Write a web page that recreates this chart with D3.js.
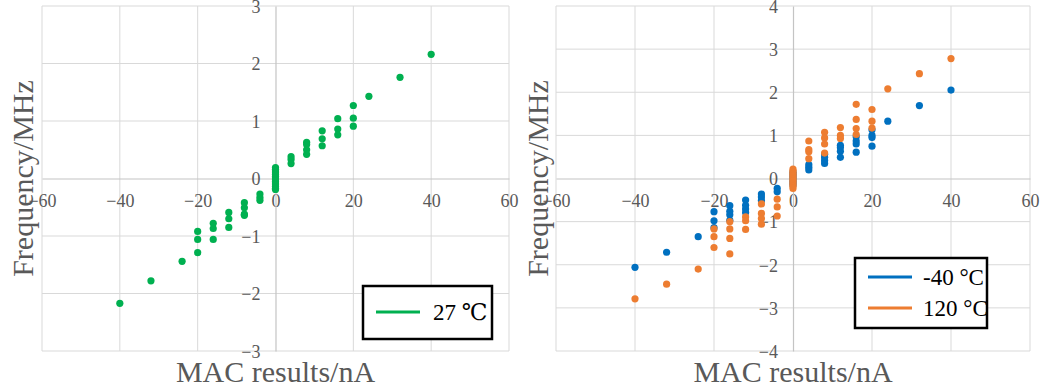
<!DOCTYPE html>
<html>
<head>
<meta charset="utf-8">
<script src="https://cdn.jsdelivr.net/npm/d3@7"></script>
<style>
  html, body { margin: 0; padding: 0; background: #fff; }
  svg { display: block; }
  svg text { font-family: "Liberation Serif", "Times New Roman", "DejaVu Serif", serif; }
</style>
</head>
<body>
<svg id="chart" width="1043" height="389"></svg>
<script>
// MAC output current (nA) vs. frequency shift (MHz)
const xTicks = [-60, -40, -20, 0, 20, 40, 60];
const yTicksLeft = [-3, -2, -1, 0, 1, 2, 3];
const yTicksRight = [-4, -3, -2, -1, 0, 1, 2, 3, 4];

// 27 °C measurements [MAC nA, MHz]
const temp27 = [
  [-40, -2.17], [-32, -1.78], [-24, -1.44],
  [-20, -0.92], [-20, -1.06], [-20, -1.29],
  [-16, -0.78], [-16, -0.87], [-16, -1.06],
  [-12, -0.59], [-12, -0.70], [-12, -0.85],
  [-8, -0.42], [-8, -0.51], [-8, -0.62], [-8, -0.64],
  [-4, -0.27], [-4, -0.33], [-4, -0.38],
  [0, 0.19], [0, 0.16], [0, 0.13], [0, 0.10], [0, 0.07], [0, 0.04], [0, 0.01],
  [0, -0.02], [0, -0.05], [0, -0.08], [0, -0.11], [0, -0.14], [0, -0.17], [0, -0.19],
  [4, 0.38], [4, 0.33], [4, 0.26],
  [8, 0.63], [8, 0.59], [8, 0.50], [8, 0.42],
  [12, 0.83], [12, 0.69], [12, 0.57],
  [16, 1.04], [16, 0.86], [16, 0.76],
  [20, 1.27], [20, 1.05], [20, 0.91],
  [24, 1.43], [32, 1.76], [40, 2.16]
];

// -40 °C measurements
const tempMinus40 = [
  [-40, -2.06], [-32, -1.71], [-24, -1.35],
  [-20, -0.77], [-20, -0.98], [-20, -1.14],
  [-16, -0.63], [-16, -0.76], [-16, -0.84], [-16, -0.97],
  [-12, -0.50], [-12, -0.62], [-12, -0.71], [-12, -0.79],
  [-8, -0.36], [-8, -0.43], [-8, -0.51],
  [-4, -0.23], [-4, -0.31],
  [0, 0.15], [0, 0.10], [0, 0.05], [0, 0.00], [0, -0.05], [0, -0.10], [0, -0.15],
  [4, 0.32], [4, 0.26], [4, 0.20],
  [8, 0.56], [8, 0.49], [8, 0.42], [8, 0.35],
  [12, 0.77], [12, 0.72], [12, 0.63], [12, 0.49],
  [16, 0.97], [16, 0.87], [16, 0.80], [16, 0.61],
  [20, 1.13], [20, 1.00], [20, 0.95], [20, 0.75],
  [24, 1.33], [32, 1.69], [40, 2.05]
];

// 120 °C measurements
const temp120 = [
  [-40, -2.79], [-32, -2.45], [-24, -2.10],
  [-20, -1.17], [-20, -1.35], [-20, -1.60],
  [-16, -1.00], [-16, -1.17], [-16, -1.39], [-16, -1.75],
  [-12, -0.89], [-12, -0.98], [-12, -1.18],
  [-8, -0.59], [-8, -0.81], [-8, -0.93], [-8, -1.06],
  [-4, -0.48], [-4, -0.66], [-4, -0.87],
  [0, 0.22], [0, 0.18], [0, 0.14], [0, 0.10], [0, 0.06], [0, 0.02], [0, -0.02],
  [0, -0.06], [0, -0.10], [0, -0.14], [0, -0.18], [0, -0.23],
  [4, 0.87], [4, 0.67], [4, 0.62], [4, 0.46],
  [8, 1.07], [8, 0.94], [8, 0.80], [8, 0.59],
  [12, 1.18], [12, 1.00], [12, 0.93],
  [16, 1.72], [16, 1.37], [16, 1.16], [16, 1.02],
  [20, 1.60], [20, 1.33], [20, 1.17],
  [24, 2.08], [32, 2.43], [40, 2.78]
];

const GREEN = "#00b050", BLUE = "#0070c0", ORANGE = "#ed7d31";
const GRID = "#d9d9d9", AXIS = "#c4c4c4", TEXT = "#595959";

const svg = d3.select("#chart");

function drawPanel(cfg) {
  const x = d3.scaleLinear().domain([-60, 60]).range([cfg.left, cfg.right]);
  const y = d3.scaleLinear().domain(cfg.yDomain).range([cfg.bottom, cfg.top]);
  const g = svg.append("g");

  // gridlines
  g.append("g").selectAll("line").data(xTicks.filter(d => d !== 0)).join("line")
    .attr("x1", d => x(d)).attr("x2", d => x(d))
    .attr("y1", cfg.top).attr("y2", cfg.bottom)
    .attr("stroke", GRID).attr("stroke-width", 1);
  g.append("g").selectAll("line").data(cfg.yTicks.filter(d => d !== 0)).join("line")
    .attr("x1", cfg.left).attr("x2", cfg.right)
    .attr("y1", d => y(d)).attr("y2", d => y(d))
    .attr("stroke", GRID).attr("stroke-width", 1);

  // axes crossing at the origin
  const xAxis = d3.axisBottom(x).tickValues(xTicks).tickSize(0).tickPadding(0)
    .tickFormat(d3.format("d"));
  const xa = g.append("g").attr("transform", `translate(0,${y(0)})`).call(xAxis)
    .attr("font-family", null).attr("font-size", null);
  xa.select(".domain").attr("stroke", AXIS).attr("stroke-width", 1.2);
  xa.selectAll("text").attr("y", 22).attr("dy", "0.35em")
    .style("font-size", "18px").attr("fill", TEXT);

  const yAxis = d3.axisLeft(y).tickValues(cfg.yTicks).tickSize(0).tickPadding(0)
    .tickFormat(d3.format("d"));
  const ya = g.append("g").attr("transform", `translate(${x(0)},0)`).call(yAxis)
    .attr("font-family", null).attr("font-size", null);
  ya.select(".domain").attr("stroke", AXIS).attr("stroke-width", 1.2);
  ya.selectAll("text").attr("x", -15).attr("dy", "0.35em")
    .style("font-size", "18px").attr("fill", TEXT);

  // points
  cfg.series.forEach(s => {
    g.append("g").selectAll("circle").data(s.data).join("circle")
      .attr("cx", d => x(d[0])).attr("cy", d => y(d[1]))
      .attr("r", 3.6).attr("fill", s.color);
  });

  // axis titles
  g.append("text")
    .attr("x", (cfg.left + cfg.right) / 2).attr("y", 382)
    .attr("text-anchor", "middle")
    .style("font-size", "30px").attr("fill", TEXT)
    .text("MAC results/nA");
  g.append("text")
    .attr("transform", `translate(${cfg.yTitleX},${(cfg.top + cfg.bottom) / 2}) rotate(-90)`)
    .attr("text-anchor", "middle")
    .style("font-size", "30px").attr("fill", TEXT)
    .text("Frequency/MHz");

  // legend
  const L = cfg.legend;
  const lg = g.append("g");
  lg.append("rect").attr("x", L.x).attr("y", L.y).attr("width", L.w).attr("height", L.h)
    .attr("fill", "#fff").attr("stroke", "#000").attr("stroke-width", 2.5);
  cfg.series.forEach((s, i) => {
    const ly = L.y + L.firstRow + i * L.rowGap;
    lg.append("line").attr("x1", L.x + 13).attr("x2", L.x + 57)
      .attr("y1", ly).attr("y2", ly)
      .attr("stroke", s.color).attr("stroke-width", 3);
    lg.append("text").attr("x", L.x + L.textDx).attr("y", ly + 8)
      .style("font-size", "23px").attr("fill", "#000")
      .text(s.label);
  });
}

drawPanel({
  left: 42, right: 509, top: 6, bottom: 351,
  yDomain: [-3, 3], yTicks: yTicksLeft, yTitleX: 33,
  series: [{ data: temp27, color: GREEN, label: "27 ℃" }],
  legend: { x: 363, y: 286, w: 129, h: 53, firstRow: 26, rowGap: 0, textDx: 70 }
});

drawPanel({
  left: 556, right: 1030, top: 6, bottom: 351,
  yDomain: [-4, 4], yTicks: yTicksRight, yTitleX: 548,
  series: [
    { data: tempMinus40, color: BLUE, label: "-40 °C" },
    { data: temp120, color: ORANGE, label: "120 °C" }
  ],
  legend: { x: 855, y: 258, w: 132, h: 70, firstRow: 19, rowGap: 31, textDx: 68 }
});
</script>
</body>
</html>
